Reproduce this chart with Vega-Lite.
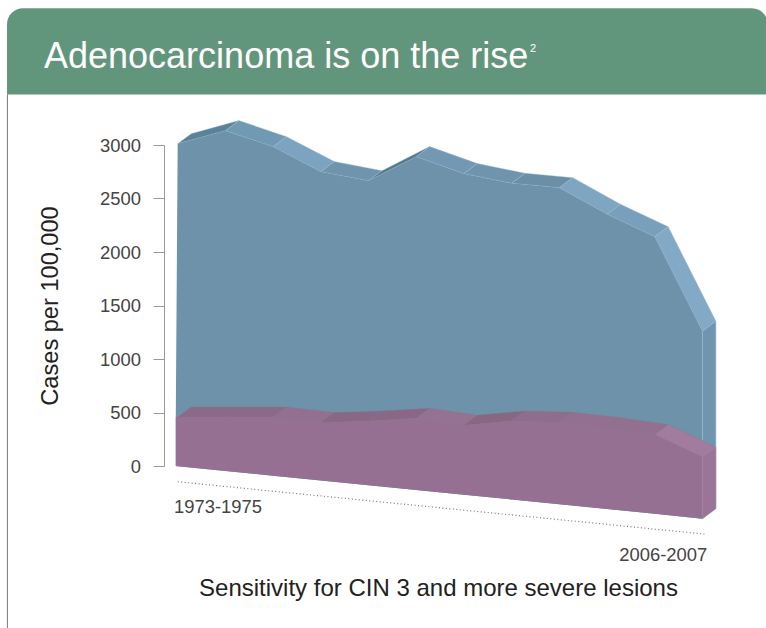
{"$schema":"https://vega.github.io/schema/vega-lite/v6.json","autosize":{"type":"none"},"padding":{"left":164,"top":145,"right":49,"bottom":162},"width":553,"height":321,"background":"white","config":{"view":{"stroke":null},"font":"Liberation Sans"},"title":{"text":"Adenocarcinoma is on the rise","anchor":"start","frame":"group","offset":0,"dy":68,"dx":-120,"fontSize":36,"fontWeight":"normal","color":"#ffffff","font":"Liberation Sans"},"datasets":{"facets":[
{"f":"b0","o":0,"p":0,"v":3012},{"f":"b0","o":1,"p":1,"v":3134},{"f":"b0","o":2,"p":1.283,"v":3228},{"f":"b0","o":3,"p":0.283,"v":3106},{"f":"b0","o":4,"p":0,"v":3012},
{"f":"b1","o":0,"p":1,"v":3134},{"f":"b1","o":1,"p":2,"v":2984},{"f":"b1","o":2,"p":2.283,"v":3078},{"f":"b1","o":3,"p":1.283,"v":3228},{"f":"b1","o":4,"p":1,"v":3134},
{"f":"b2","o":0,"p":2,"v":2984},{"f":"b2","o":1,"p":3,"v":2751},{"f":"b2","o":2,"p":3.283,"v":2845},{"f":"b2","o":3,"p":2.283,"v":3078},{"f":"b2","o":4,"p":2,"v":2984},
{"f":"b3","o":0,"p":3,"v":2751},{"f":"b3","o":1,"p":4,"v":2666},{"f":"b3","o":2,"p":4.283,"v":2760},{"f":"b3","o":3,"p":3.283,"v":2845},{"f":"b3","o":4,"p":3,"v":2751},
{"f":"b4","o":0,"p":4,"v":2666},{"f":"b4","o":1,"p":5,"v":2891},{"f":"b4","o":2,"p":5.283,"v":2985},{"f":"b4","o":3,"p":4.283,"v":2760},{"f":"b4","o":4,"p":4,"v":2666},
{"f":"b5","o":0,"p":5,"v":2891},{"f":"b5","o":1,"p":6,"v":2732},{"f":"b5","o":2,"p":6.283,"v":2826},{"f":"b5","o":3,"p":5.283,"v":2985},{"f":"b5","o":4,"p":5,"v":2891},
{"f":"b6","o":0,"p":6,"v":2732},{"f":"b6","o":1,"p":7,"v":2642},{"f":"b6","o":2,"p":7.283,"v":2736},{"f":"b6","o":3,"p":6.283,"v":2826},{"f":"b6","o":4,"p":6,"v":2732},
{"f":"b7","o":0,"p":7,"v":2642},{"f":"b7","o":1,"p":8,"v":2601},{"f":"b7","o":2,"p":8.283,"v":2695},{"f":"b7","o":3,"p":7.283,"v":2736},{"f":"b7","o":4,"p":7,"v":2642},
{"f":"b8","o":0,"p":8,"v":2601},{"f":"b8","o":1,"p":9,"v":2352},{"f":"b8","o":2,"p":9.283,"v":2446},{"f":"b8","o":3,"p":8.283,"v":2695},{"f":"b8","o":4,"p":8,"v":2601},
{"f":"b9","o":0,"p":9,"v":2352},{"f":"b9","o":1,"p":10,"v":2143},{"f":"b9","o":2,"p":10.283,"v":2237},{"f":"b9","o":3,"p":9.283,"v":2446},{"f":"b9","o":4,"p":9,"v":2352},
{"f":"b10","o":0,"p":10,"v":2143},{"f":"b10","o":1,"p":11,"v":1259},{"f":"b10","o":2,"p":11.283,"v":1353},{"f":"b10","o":3,"p":10.283,"v":2237},{"f":"b10","o":4,"p":10,"v":2143}],
"pinkfacets":[
{"f":"p0","o":0,"p":0,"v":458},{"f":"p0","o":1,"p":1,"v":458},{"f":"p0","o":2,"p":1.283,"v":552},{"f":"p0","o":3,"p":0.283,"v":552},{"f":"p0","o":4,"p":0,"v":458},
{"f":"p1","o":0,"p":1,"v":458},{"f":"p1","o":1,"p":2,"v":458},{"f":"p1","o":2,"p":2.283,"v":552},{"f":"p1","o":3,"p":1.283,"v":552},{"f":"p1","o":4,"p":1,"v":458},
{"f":"p2","o":0,"p":2,"v":458},{"f":"p2","o":1,"p":3,"v":405},{"f":"p2","o":2,"p":3.283,"v":499},{"f":"p2","o":3,"p":2.283,"v":552},{"f":"p2","o":4,"p":2,"v":458},
{"f":"p3","o":0,"p":3,"v":405},{"f":"p3","o":1,"p":4,"v":421},{"f":"p3","o":2,"p":4.283,"v":515},{"f":"p3","o":3,"p":3.283,"v":499},{"f":"p3","o":4,"p":3,"v":405},
{"f":"p4","o":0,"p":4,"v":421},{"f":"p4","o":1,"p":5,"v":446},{"f":"p4","o":2,"p":5.283,"v":540},{"f":"p4","o":3,"p":4.283,"v":515},{"f":"p4","o":4,"p":4,"v":421},
{"f":"p5","o":0,"p":5,"v":446},{"f":"p5","o":1,"p":6,"v":380},{"f":"p5","o":2,"p":6.283,"v":474},{"f":"p5","o":3,"p":5.283,"v":540},{"f":"p5","o":4,"p":5,"v":446},
{"f":"p6","o":0,"p":6,"v":380},{"f":"p6","o":1,"p":7,"v":421},{"f":"p6","o":2,"p":7.283,"v":515},{"f":"p6","o":3,"p":6.283,"v":474},{"f":"p6","o":4,"p":6,"v":380},
{"f":"p7","o":0,"p":7,"v":421},{"f":"p7","o":1,"p":8,"v":408},{"f":"p7","o":2,"p":8.283,"v":502},{"f":"p7","o":3,"p":7.283,"v":515},{"f":"p7","o":4,"p":7,"v":421},
{"f":"p8","o":0,"p":8,"v":408},{"f":"p8","o":1,"p":9,"v":358},{"f":"p8","o":2,"p":9.283,"v":452},{"f":"p8","o":3,"p":8.283,"v":502},{"f":"p8","o":4,"p":8,"v":408},
{"f":"p9","o":0,"p":9,"v":358},{"f":"p9","o":1,"p":10,"v":293},{"f":"p9","o":2,"p":10.283,"v":387},{"f":"p9","o":3,"p":9.283,"v":452},{"f":"p9","o":4,"p":9,"v":358},
{"f":"p10","o":0,"p":10,"v":293},{"f":"p10","o":1,"p":11,"v":84},{"f":"p10","o":2,"p":11.283,"v":178},{"f":"p10","o":3,"p":10.283,"v":387},{"f":"p10","o":4,"p":10,"v":293}],
"front":[
{"p":-0.04,"blue":458,"pink":458,"base":0},{"p":0,"blue":3012,"pink":458,"base":-2},{"p":1,"blue":3134,"pink":458,"base":-46},{"p":2,"blue":2984,"pink":458,"base":-91},{"p":3,"blue":2751,"pink":405,"base":-135},{"p":4,"blue":2666,"pink":421,"base":-180},{"p":5,"blue":2891,"pink":446,"base":-224},{"p":6,"blue":2732,"pink":380,"base":-269},{"p":7,"blue":2642,"pink":421,"base":-313},{"p":8,"blue":2601,"pink":408,"base":-358},{"p":9,"blue":2352,"pink":358,"base":-403},{"p":10,"blue":2143,"pink":293,"base":-447},{"p":11,"blue":1259,"pink":84,"base":-492}],
"side":[{"p":11,"blue":1259,"pink":84,"base":-492},{"p":11.283,"blue":1353,"pink":178,"base":-398}]},
"encoding":{"x":{"field":"p","type":"quantitative","scale":{"domain":[-0.287,11.306],"nice":false,"zero":false},"axis":{"title":"Sensitivity for CIN 3 and more severe lesions","titleFontSize":24,"titleFontWeight":"normal","titleColor":"#222222","titleFont":"Liberation Sans","titleX":274,"titleY":110,"domain":false,"ticks":false,"labels":false,"grid":false}},"y":{"field":"v","type":"quantitative","scale":{"domain":[0,3000],"nice":false,"zero":false},"axis":{"title":"Cases per 100,000","titleFontSize":23.6,"titleFontWeight":"normal","titleColor":"#222222","titleFont":"Liberation Sans","titleX":-102,"values":[0,500,1000,1500,2000,2500,3000],"format":"d","labelFontSize":18.4,"labelColor":"#444444","labelFont":"Liberation Sans","labelPadding":12.5,"tickSize":11,"tickColor":"#999999","domainColor":"#999999","grid":false}}},
"layer":[
{"data":{"values":[{"p":-3.578,"p2":12.37,"v":4278,"v2":3472}]},"mark":{"type":"rect","color":"#62967c","cornerRadiusTopLeft":16,"cornerRadiusTopRight":16},"encoding":{"x2":{"field":"p2"},"y2":{"field":"v2"}}},
{"data":{"values":[{"p":-3.57,"v":3472,"v2":-1514}]},"mark":{"type":"rule","color":"#777777","strokeWidth":1},"encoding":{"y2":{"field":"v2"}}},
{"data":{"name":"facets"},"mark":{"type":"line","stroke":"#9dbacd","strokeWidth":0.4,"interpolate":"linear"},"encoding":{"detail":{"field":"f"},"order":{"field":"o"},"fill":{"field":"f","type":"nominal","legend":null,"scale":{"domain":["b0","b1","b2","b3","b4","b5","b6","b7","b8","b9","b10","p0","p1","p2","p3","p4","p5","p6","p7","p8","p9","p10"],"range":["#5b8299","#7099b3","#7ca3bf","#6f95ae","#56798f","#7398b3","#6f95ae","#6a8fa7","#7ea5c1","#78a0bc","#82aac7","#8a6a88","#8a6a88","#93708f","#8a6885","#8a6885","#957291","#876782","#8f6d8c","#93708f","#93708f","#a27c9f"]}}}},
{"data":{"name":"front"},"mark":{"type":"area","color":"#6d92aa"},"encoding":{"y":{"field":"blue","type":"quantitative"},"y2":{"field":"base"}}},
{"data":{"name":"side"},"mark":{"type":"area","color":"#7095ae","stroke":"#9db9cc","strokeWidth":0.5},"encoding":{"y":{"field":"blue","type":"quantitative"},"y2":{"field":"base"}}},
{"data":{"name":"pinkfacets"},"mark":{"type":"line","stroke":"#8f6f8d","strokeWidth":0.3},"encoding":{"detail":{"field":"f"},"order":{"field":"o"},"fill":{"field":"f","type":"nominal","legend":null}}},
{"data":{"name":"front"},"mark":{"type":"area","color":"#957092"},"encoding":{"y":{"field":"pink","type":"quantitative"},"y2":{"field":"base"}}},
{"data":{"name":"side"},"mark":{"type":"area","color":"#9a7596","stroke":"#a98aa6","strokeWidth":0.5},"encoding":{"y":{"field":"pink","type":"quantitative"},"y2":{"field":"base"}}},
{"data":{"values":[{"p":0,"v":-147},{"p":11.04,"v":-636}]},"mark":{"type":"line","color":"#777777","strokeWidth":1.2,"strokeDash":[1,2.5]}},
{"data":{"values":[{"p":-0.078,"v":-383,"label":"1973-1975"}]},"mark":{"type":"text","align":"left","baseline":"middle","fontSize":18.4,"color":"#444444"},"encoding":{"text":{"field":"label"}}},
{"data":{"values":[{"p":11.1,"v":-832,"label":"2006-2007"}]},"mark":{"type":"text","align":"right","baseline":"middle","fontSize":18.4,"color":"#444444"},"encoding":{"text":{"field":"label"}}},
{"data":{"values":[{"p":7.385,"v":3900,"label":"2"}]},"mark":{"type":"text","align":"left","baseline":"middle","fontSize":11,"color":"#ffffff"},"encoding":{"text":{"field":"label"}}}
]}
